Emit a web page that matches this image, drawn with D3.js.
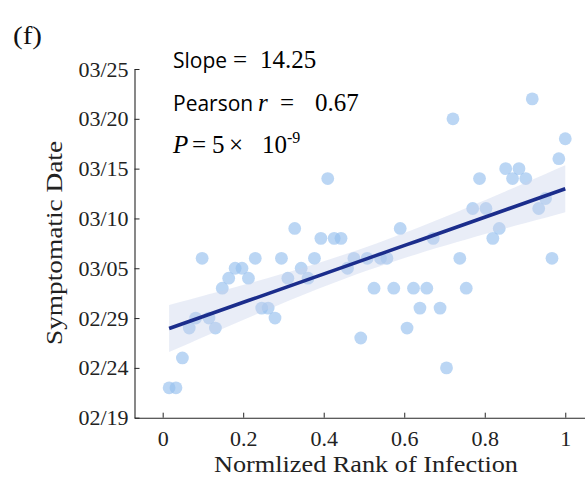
<!DOCTYPE html>
<html>
<head>
<meta charset="utf-8">
<script src="https://cdn.jsdelivr.net/npm/d3@7"></script>
<style>
  body { margin: 0; background: #fff; }
  svg { display: block; }
  .tick text { font-family: "Liberation Serif", "DejaVu Serif", serif; }
</style>
</head>
<body>
<div id="chart"></div>
<script>
// normalized rank of infection for each case
const ranks = [
  0.016, 0.033, 0.049, 0.066, 0.082, 0.098, 0.115, 0.131, 0.148, 0.164,
  0.180, 0.197, 0.213, 0.230, 0.246, 0.262, 0.279, 0.295, 0.311, 0.328,
  0.344, 0.361, 0.377, 0.393, 0.410, 0.426, 0.443, 0.459, 0.475, 0.492,
  0.508, 0.525, 0.541, 0.557, 0.574, 0.590, 0.607, 0.623, 0.639, 0.656,
  0.672, 0.689, 0.705, 0.721, 0.738, 0.754, 0.770, 0.787, 0.803, 0.820,
  0.836, 0.852, 0.869, 0.885, 0.902, 0.918, 0.934, 0.951, 0.967, 0.984,
  1.000
];
// symptomatic date (2020) for each case
const symptomDates = [
  '02/22', '02/22', '02/25', '02/28', '02/29', '03/06', '02/29', '02/28', '03/03', '03/04',
  '03/05', '03/05', '03/04', '03/06', '03/01', '03/01', '02/29', '03/06', '03/04', '03/09',
  '03/05', '03/04', '03/06', '03/08', '03/14', '03/08', '03/08', '03/05', '03/06', '02/27',
  '03/06', '03/03', '03/06', '03/06', '03/03', '03/09', '02/28', '03/03', '03/01', '03/03',
  '03/08', '03/01', '02/24', '03/20', '03/06', '03/03', '03/11', '03/14', '03/11', '03/08',
  '03/09', '03/15', '03/14', '03/15', '03/14', '03/22', '03/11', '03/12', '03/06', '03/16',
  '03/18'
];
const xTicks = [0, 0.2, 0.4, 0.6, 0.8, 1];
const yTickLabels = ['02/19', '02/24', '02/29', '03/05', '03/10', '03/15', '03/20', '03/25'];

const width = 585;
const height = 480;
const parseDate = s => d3.utcParse('%Y/%m/%d')('2020/' + s);
const DAY = 864e5;

const data = ranks.map((r, i) => ({ rank: r, date: parseDate(symptomDates[i]) }));

const svg = d3.select('#chart').append('svg')
    .attr('width', width)
    .attr('height', height);

const xScale = d3.scaleLinear()
    .domain([-0.07, 1.05])
    .range([134.5, 585.4]);

const yScale = d3.scaleUtc()
    .domain([parseDate('02/19'), parseDate('03/25')])
    .range([417.7, 69]);

// least squares fit in days, with a 95% band for the mean
const t0 = parseDate('02/19').getTime();
const xs = data.map(d => d.rank);
const ys = data.map(d => (d.date.getTime() - t0) / DAY);
const n = xs.length;
const mx = d3.mean(xs), my = d3.mean(ys);
const sxx = d3.sum(xs, x => (x - mx) ** 2);
const sxy = d3.sum(xs, (x, i) => (x - mx) * (ys[i] - my));
const slope = sxy / sxx;
const intercept = my - slope * mx;
const resid = Math.sqrt(d3.sum(xs, (x, i) => (ys[i] - (intercept + slope * x)) ** 2) / (n - 2));
const tCrit = 2.0;

const fitX = d3.range(0, 41).map(i => d3.min(xs) + (d3.max(xs) - d3.min(xs)) * i / 40);
const fit = fitX.map(x => {
    const yhat = intercept + slope * x;
    const se = resid * Math.sqrt(1 / n + (x - mx) ** 2 / sxx);
    return { x, yhat, lo: yhat - tCrit * se, hi: yhat + tCrit * se };
});
const dayToDate = v => new Date(t0 + v * DAY);

// dots
svg.append('g')
  .selectAll('circle')
  .data(data)
  .join('circle')
    .attr('cx', d => xScale(d.rank))
    .attr('cy', d => yScale(d.date))
    .attr('r', 6.4)
    .attr('fill', 'rgb(150,192,238)')
    .attr('fill-opacity', 0.65);

// confidence band
svg.append('path')
    .datum(fit)
    .attr('fill', 'rgb(200,210,235)')
    .attr('fill-opacity', 0.4)
    .attr('d', d3.area()
        .x(d => xScale(d.x))
        .y0(d => yScale(dayToDate(d.lo)))
        .y1(d => yScale(dayToDate(d.hi))));

// regression line
svg.append('path')
    .datum(fit)
    .attr('fill', 'none')
    .attr('stroke', '#1b2d8c')
    .attr('stroke-width', 3.6)
    .attr('d', d3.line()
        .x(d => xScale(d.x))
        .y(d => yScale(dayToDate(d.yhat))));

// axes, ticks pointing inward
const xAxis = svg.append('g')
    .attr('transform', `translate(0,${yScale.range()[0]})`)
    .call(d3.axisBottom(xScale)
        .tickValues(xTicks)
        .tickSize(-5)
        .tickSizeOuter(0)
        .tickPadding(13)
        .tickFormat(d3.format('~g')));

const yAxis = svg.append('g')
    .attr('transform', `translate(${xScale.range()[0]},0)`)
    .call(d3.axisLeft(yScale)
        .tickValues(yTickLabels.map(parseDate))
        .tickSize(-5)
        .tickSizeOuter(0)
        .tickPadding(6)
        .tickFormat(d3.utcFormat('%m/%d')));

[xAxis, yAxis].forEach(ax => {
    ax.select('.domain').attr('stroke', '#262626').attr('stroke-width', 1.1);
    ax.selectAll('.tick line').attr('stroke', '#262626');
    ax.selectAll('.tick text')
        .attr('fill', '#222')
        .style('font-size', '22px');
});

// axis titles
svg.append('text')
    .attr('x', 366)
    .attr('y', 472)
    .attr('text-anchor', 'middle')
    .attr('textLength', 304)
    .attr('lengthAdjust', 'spacingAndGlyphs')
    .style('font-family', '"Liberation Serif", serif')
    .style('font-size', '24px')
    .attr('fill', '#222')
    .text('Normlized Rank of Infection');

svg.append('text')
    .attr('transform', 'translate(62,243) rotate(-90)')
    .attr('text-anchor', 'middle')
    .attr('textLength', 204)
    .attr('lengthAdjust', 'spacingAndGlyphs')
    .style('font-family', '"Liberation Serif", serif')
    .style('font-size', '24px')
    .attr('fill', '#222')
    .text('Symptomatic Date');

svg.append('text')
    .attr('x', 13)
    .attr('y', 44)
    .attr('textLength', 29)
    .attr('lengthAdjust', 'spacingAndGlyphs')
    .style('font-family', '"Liberation Serif", serif')
    .style('font-size', '25px')
    .attr('fill', '#111')
    .text('(f)');

// annotation
const serif = '"Liberation Serif", serif';
const sans = '"Open Sans", "Noto Sans", sans-serif';
const note = svg.append('g').attr('fill', '#000');

const l1 = note.append('text').attr('y', 68);
l1.append('tspan').attr('x', 173).style('font-family', sans).style('font-size', '21px').text('Slope');
l1.append('tspan').attr('x', 233).style('font-family', serif).style('font-size', '25px').text('=');
l1.append('tspan').attr('x', 260).style('font-family', serif).style('font-size', '25px').text('14.25');

const l2 = note.append('text').attr('y', 111);
l2.append('tspan').attr('x', 173).style('font-family', sans).style('font-size', '21px').text('Pearson');
l2.append('tspan').attr('x', 258).style('font-family', serif).style('font-style', 'italic').style('font-size', '25px').text('r');
l2.append('tspan').attr('x', 280).style('font-family', serif).style('font-size', '25px').text('=');
l2.append('tspan').attr('x', 315).style('font-family', serif).style('font-size', '25px').text('0.67');

const l3 = note.append('text').attr('y', 153)
    .style('font-family', serif).style('font-size', '25px');
l3.append('tspan').attr('x', 173).style('font-style', 'italic').text('P');
l3.append('tspan').attr('x', 192).text('=');
l3.append('tspan').attr('x', 212).text('5');
l3.append('tspan').attr('x', 229).text('×');
l3.append('tspan').attr('x', 262).text('10');
l3.append('tspan').attr('dy', -10).style('font-size', '16px').text('-9');
</script>
</body>
</html>
